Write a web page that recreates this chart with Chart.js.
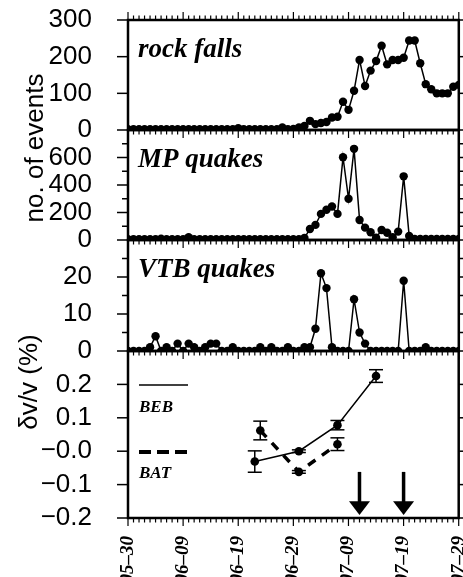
<!DOCTYPE html>
<html><head><meta charset="utf-8">
<script src="https://cdn.jsdelivr.net/npm/chart.js@4.4.1/dist/chart.umd.min.js"></script>
<style>
html,body{margin:0;padding:0;background:#fff;}
#wrap{position:relative;width:463px;height:577px;overflow:hidden;background:#fff;}
canvas{position:absolute;left:0;top:0;}
</style></head><body>
<div id="wrap">
<canvas id="c1" width="463" height="577"></canvas>
<canvas id="c2" width="463" height="577"></canvas>
<canvas id="c3" width="463" height="577"></canvas>
<canvas id="c4" width="463" height="577"></canvas>
</div>
<script>
// ---- data ----
const tickDays = [0, 10, 20, 30, 40, 50, 60];
const dateLabels = ["05–30", "06–09", "06–19", "06–29", "07–09", "07–19", "07–29"];

const rockFalls = [2,2,2,2,2,2,2,2,2,2, 2,2,2,2,2,2,2,2,2,2, 5,2,2,2,2,2,
  2,2,7,2,3,7,11,25,16,19, 22,34,36,77,55,107,191,120,162,188,
  230,179,191,191,197,244,244,182,125,111, 100,100,100,118,123];
const mpQuakes = [5,5,5,5,5,5,10,5,5,5, 5,20,5,5,5,5,5,5,5,5, 5,5,5,5,5,5,5,5,5,5,
  5,5,15, 80,110,190,220,244,190,602,300,663,146, 90,56,17,73,53,20,61,463,29,
  8,8,8,8,8,8,8,8,8];
const vtbQuakes = [0,0,0,0,1,4,0,1,0,2, 0,2,1,0,1,2,2,0,0,1, 0,0,0,0,1,0,1,0,0,1,
  0,0,1,1,6,21,17,1,0,0, 0,14,5,2,0,0,0,0,0,0, 19,0,0,0,1,0,0,0,0,0,0];

const rockTicks = [0, 100, 200, 300];
const rockTickLabels = ["0", "100", "200", "300"];
const mpTicks = [0, 200, 400, 600];
const mpTickLabels = ["0", "200", "400", "600"];
const mpMinorTicks = [100, 300, 500, 700];
const vtbTicks = [0, 10, 20];
const vtbTickLabels = ["0", "10", "20"];
const vtbMinorTicks = [5, 15, 25];
const dvTicks = [-0.2, -0.1, 0, 0.1, 0.2];
const dvTickLabels = ["−0.2", "−0.1", "−0.0", "0.1", "0.2"];

const bebDays = [23, 31, 38, 45];
const bebValues = [-0.031, 0.0, 0.078, 0.225];
const bebErrors = [0.032, 0.004, 0.014, 0.019];
const batDays = [24, 31, 38];
const batValues = [0.062, -0.062, 0.021];
const batErrors = [0.028, 0.004, 0.019];
const arrowDays = [42, 50];

// ---- helpers ----
Chart.defaults.font.family = "'Liberation Sans', Arial, sans-serif";
Chart.defaults.color = '#000';
const tickFont = { family: "'Liberation Sans', Arial, sans-serif", size: 26 };
const dateFont = { family: "'Liberation Serif', 'Times New Roman', serif", size: 19, style: 'italic', weight: 'bold' };

function pts(vals) { return vals.map((v, i) => ({ x: i, y: v })); }

function line(ctx, x1, y1, x2, y2) { ctx.beginPath(); ctx.moveTo(x1, y1); ctx.lineTo(x2, y2); ctx.stroke(); }

function framePlugin(cfg) {
  return {
    id: 'frame' + cfg.key,
    afterDraw(chart) {
      const { ctx, chartArea: a } = chart;
      const x = chart.scales.x, y = chart.scales.y;
      ctx.save();
      ctx.strokeStyle = '#000';
      ctx.lineWidth = 1.2;
      for (let d = 0; d <= 60; d++) {
        const px = x.getPixelForValue(d);
        const len = (d % 10 === 0) ? 8 : 4.5;
        line(ctx, px, a.bottom, px, a.bottom + len);
        if (cfg.top) line(ctx, px, a.top, px, a.top - len);
      }
      ctx.lineWidth = 1.5;
      cfg.major.forEach(v => {
        const py = y.getPixelForValue(v);
        line(ctx, a.left - 11, py, a.left, py);
        line(ctx, a.right, py, a.right + 11, py);
      });
      (cfg.minor || []).forEach(v => {
        const py = y.getPixelForValue(v);
        line(ctx, a.left - 6, py, a.left, py);
        line(ctx, a.right, py, a.right + 6, py);
      });
      ctx.lineWidth = 2.5;
      ctx.strokeRect(a.left, a.top, a.right - a.left, a.bottom - a.top);
      if (cfg.title) {
        ctx.fillStyle = '#000';
        ctx.font = "italic bold 27px 'Liberation Serif', 'Times New Roman', serif";
        ctx.textAlign = 'left';
        ctx.textBaseline = 'alphabetic';
        ctx.fillText(cfg.title, a.left + 10, a.top + 37);
      }
      if (cfg.extra) cfg.extra(chart);
      ctx.restore();
    }
  };
}

function yScale(min, max, vals, labels) {
  return {
    type: 'linear', min: min, max: max,
    afterBuildTicks: s => { s.ticks = vals.map(v => ({ value: v })); },
    afterFit: s => { s.width = 128; s.paddingTop = 0; s.paddingBottom = 0; },
    ticks: { callback: (v, i) => labels[i], font: tickFont, color: '#000', padding: 28 },
    grid: { display: false }, border: { display: false }
  };
}

function lineDataset(vals) {
  return {
    data: pts(vals), borderColor: '#000', backgroundColor: '#000', borderWidth: 1.5,
    pointRadius: 4.2, pointBorderWidth: 0, pointBackgroundColor: '#000', tension: 0,
    clip: 0
  };
}

function panel(id, key, dataset, ys, pad, frameCfg) {
  return new Chart(document.getElementById(id), {
    type: 'line',
    data: { datasets: [dataset] },
    options: {
      responsive: false, animation: false, devicePixelRatio: 1,
      layout: { padding: pad },
      plugins: { legend: { display: false }, tooltip: { enabled: false } },
      scales: { x: { type: 'linear', min: 0, max: 60, display: false }, y: ys }
    },
    plugins: [framePlugin(Object.assign({ key: key }, frameCfg))]
  });
}

function drawRotated(ctx, text, x, y, font) {
  ctx.save();
  ctx.translate(x, y);
  ctx.rotate(-Math.PI / 2);
  ctx.font = font;
  ctx.fillStyle = '#000';
  ctx.textAlign = 'center';
  ctx.textBaseline = 'alphabetic';
  ctx.fillText(text, 0, 0);
  ctx.restore();
}

panel('c1', 1, lineDataset(rockFalls), yScale(0, 300, rockTicks, rockTickLabels),
  { left: 0, right: 2, top: 20, bottom: 447 },
  { top: true, major: rockTicks, title: 'rock falls',
    extra: chart => drawRotated(chart.ctx, 'no. of events', 43, 148, "26px 'Liberation Sans', Arial, sans-serif") });

panel('c2', 2, lineDataset(mpQuakes), yScale(0, 800, mpTicks, mpTickLabels),
  { left: 0, right: 2, top: 130, bottom: 337 },
  { major: mpTicks, minor: mpMinorTicks, title: 'MP quakes' });

panel('c3', 3, lineDataset(vtbQuakes), yScale(0, 30, vtbTicks, vtbTickLabels),
  { left: 0, right: 2, top: 240, bottom: 226 },
  { major: vtbTicks, minor: vtbMinorTicks, title: 'VTB quakes' });

// dv/v panel
function dvExtra(chart) {
  const { ctx, chartArea: a } = chart;
  const x = chart.scales.x, y = chart.scales.y;
  ctx.save();
  ctx.strokeStyle = '#000';
  ctx.fillStyle = '#000';
  // error bars
  ctx.lineWidth = 1.5;
  const bars = (days, vals, errs) => days.forEach((d, i) => {
    const px = x.getPixelForValue(d);
    const y1 = y.getPixelForValue(vals[i] + errs[i]);
    const y2 = y.getPixelForValue(vals[i] - errs[i]);
    line(ctx, px, y1, px, y2);
    line(ctx, px - 7, y1, px + 7, y1);
    line(ctx, px - 7, y2, px + 7, y2);
  });
  bars(bebDays, bebValues, bebErrors);
  bars(batDays, batValues, batErrors);
  // arrows
  arrowDays.forEach(d => {
    const px = x.getPixelForValue(d);
    const yTop = y.getPixelForValue(-0.062);
    const yHead = y.getPixelForValue(-0.15);
    const yTip = y.getPixelForValue(-0.191);
    ctx.lineWidth = 3.5;
    line(ctx, px, yTop, px, yHead + 2);
    ctx.beginPath();
    ctx.moveTo(px - 10.5, yHead);
    ctx.lineTo(px + 10.5, yHead);
    ctx.lineTo(px, yTip);
    ctx.closePath();
    ctx.fill();
  });
  // legend
  ctx.lineWidth = 1.5;
  line(ctx, a.left + 11, a.top + 34, a.left + 60, a.top + 34);
  ctx.lineWidth = 4;
  ctx.setLineDash([12, 6]);
  line(ctx, a.left + 11, a.top + 101, a.left + 60, a.top + 101);
  ctx.setLineDash([]);
  ctx.font = "italic bold 17px 'Liberation Serif', 'Times New Roman', serif";
  ctx.textAlign = 'left';
  ctx.textBaseline = 'alphabetic';
  ctx.fillText('BEB', a.left + 11, a.top + 61);
  ctx.fillText('BAT', a.left + 11, a.top + 127);
  ctx.restore();
  drawRotated(ctx, 'δv/v (%)', 37, 382, "26px 'Liberation Sans', Arial, sans-serif");
}

new Chart(document.getElementById('c4'), {
  type: 'line',
  data: {
    datasets: [
      { label: 'BEB', data: bebDays.map((d, i) => ({ x: d, y: bebValues[i] })),
        borderColor: '#000', backgroundColor: '#000', borderWidth: 1.5, pointRadius: 4.3,
        pointBorderWidth: 0, pointBackgroundColor: '#000', tension: 0 },
      { label: 'BAT', data: batDays.map((d, i) => ({ x: d, y: batValues[i] })),
        borderColor: '#000', backgroundColor: '#000', borderWidth: 3.5, borderDash: [9, 8],
        pointRadius: 4.3, pointBorderWidth: 0, pointBackgroundColor: '#000', tension: 0 }
    ]
  },
  options: {
    responsive: false, animation: false, devicePixelRatio: 1,
    layout: { padding: { left: 0, right: 2, top: 351, bottom: 0 } },
    plugins: { legend: { display: false }, tooltip: { enabled: false } },
    scales: {
      x: {
        type: 'linear', min: 0, max: 60,
        afterBuildTicks: s => { s.ticks = tickDays.map(v => ({ value: v })); },
        afterFit: s => { s.height = 59; s.paddingLeft = 0; s.paddingRight = 0; },
        ticks: { callback: (v, i) => dateLabels[i], font: dateFont, color: '#000',
          maxRotation: 90, minRotation: 90, autoSkip: false, padding: 10 },
        grid: { display: false }, border: { display: false }
      },
      y: yScale(-0.2, 0.3, dvTicks, dvTickLabels)
    }
  },
  plugins: [framePlugin({ key: 4, major: dvTicks, extra: dvExtra })]
});
</script>
</body></html>
